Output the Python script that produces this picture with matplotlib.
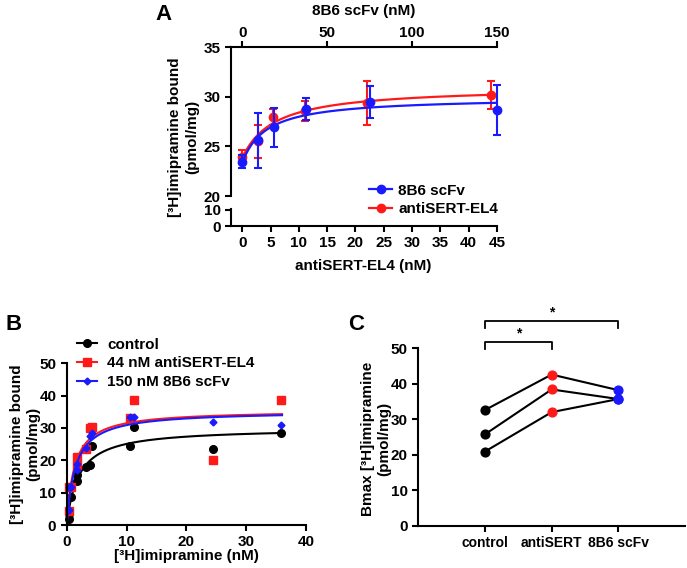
import numpy as np
import matplotlib
matplotlib.use("Agg")
import matplotlib.pyplot as plt
from matplotlib.lines import Line2D

plt.rcParams['font.family'] = ['Liberation Sans', 'DejaVu Sans']
plt.rcParams['font.weight'] = 'bold'
plt.rcParams['axes.labelweight'] = 'bold'
plt.rcParams['font.size'] = 11
plt.rcParams['axes.linewidth'] = 1.5
plt.rcParams['xtick.major.width'] = 1.5
plt.rcParams['ytick.major.width'] = 1.5
plt.rcParams['xtick.major.size'] = 4
plt.rcParams['ytick.major.size'] = 4

# ---- panel A data ----
a_red_x = [0, 2.75, 5.5, 11, 22, 44]            # antiSERT-EL4 (nM)
a_red_y = [23.95, 25.5, 28.0, 28.6, 29.4, 30.17]
a_red_err = [0.7, 1.65, 0.8, 1.0, 2.2, 1.45]
a_blue_x = [0, 9.375, 18.75, 37.5, 75, 150]      # 8B6 scFv (nM)
a_blue_y = [23.45, 25.6, 26.9, 28.75, 29.5, 28.65]
a_blue_err = [0.65, 2.8, 1.95, 1.1, 1.6, 2.5]

# ---- panel B data ----
b_x = [0.4, 0.4, 0.8, 1.8, 1.8, 3.2, 3.9, 4.2, 10.5, 11.3, 24.5, 35.8]
b_ctrl = [1.9, 3.3, 8.6, 13.7, 15.5, 18.0, 18.4, 24.5, 24.5, 30.2, 23.4, 28.4]
b_anti = [4.3, 11.6, 11.6, 18.6, 21.1, 23.5, 29.9, 30.3, 33.0, 38.5, 20.1, 38.7]
b_8b6 = [4.6, 11.8, 11.8, 17.0, 19.0, 23.7, 27.6, 28.3, 33.5, 33.3, 32.0, 30.9]

# ---- panel C data ----
c_groups = ['control', 'antiSERT', '8B6 scFv']
c_ctrl = [32.6, 25.75, 20.9]
c_anti = [42.6, 38.4, 32.0]
c_8b6 = [38.2, 35.7, 35.7]


def fit_hyper(x, y, offset):
    # y = y0 + A*x/(K+x), least squares with grid over K
    x = np.asarray(x, float); y = np.asarray(y, float)
    best = None
    for K in np.linspace(0.05, 40, 2000):
        f = x / (K + x)
        M = np.column_stack([np.ones_like(f), f]) if offset else f[:, None]
        coef = np.linalg.lstsq(M, y, rcond=None)[0]
        sse = np.sum((M @ coef - y) ** 2)
        if best is None or sse < best[0]:
            best = (sse, K, coef)
    K, coef = best[1], best[2]
    def curve(xx):
        f = xx / (K + xx)
        return coef[0] + coef[1] * f if offset else coef[0] * f
    return curve


fig = plt.figure(figsize=(6.87, 5.68), dpi=100)

# ================= Panel A =================
axA = fig.add_axes([0.3362, 0.6549, 0.3872, 0.2623])
axA0 = fig.add_axes([0.3362, 0.6021, 0.3872, 0.0299])
for a in (axA, axA0):
    a.set_xlim(-2, 45)
axA.set_ylim(20, 35)
axA.set_yticks([20, 25, 30, 35])
axA.set_xticks([])
for s in ('bottom', 'right', 'top'):
    axA.spines[s].set_visible(False)
axA0.set_ylim(0, 10.5)
axA0.set_yticks([0, 10])
axA0.set_xticks(range(0, 50, 5))
axA0.spines['top'].set_visible(False)
axA0.spines['right'].set_visible(False)

red_fit = fit_hyper(a_red_x, a_red_y, True)
xx = np.linspace(0, 44, 200)
axA.plot(xx, red_fit(xx), color='#ff1a1a', lw=1.6)
axA.errorbar(a_red_x, a_red_y, yerr=a_red_err, fmt='o', color='#ff1a1a',
             ms=6, capsize=3, elinewidth=1.5, capthick=1.5, clip_on=False)

axT = axA.twiny()
axT.set_xlim(-2 * 10 / 3, 45 * 10 / 3)
axT.set_xticks([0, 50, 100, 150])
for s in ('bottom', 'right', 'left'):
    axT.spines[s].set_visible(False)
axT.tick_params(axis='x', pad=1)
blue_fit = fit_hyper(a_blue_x, a_blue_y, True)
xb = np.linspace(0, 150, 200)
axT.plot(xb, blue_fit(xb), color='#1a1aff', lw=1.6)
eb = axT.errorbar(a_blue_x, a_blue_y, yerr=a_blue_err, fmt='o', color='#1a1aff',
                  ms=6, capsize=3, elinewidth=1.5, capthick=1.5)
for art in eb.lines[0:1] + tuple(eb.lines[1]) + tuple(eb.lines[2]):
    art.set_clip_on(False)
axT.set_xlabel('8B6 scFv (nM)', labelpad=8)

fig.text(363 / 687, 1 - 266 / 568, 'antiSERT-EL4 (nM)', ha='center', va='center')
fig.text(184 / 687, 1 - 137 / 568, '[³H]imipramine bound\n(pmol/mg)', rotation=90,
         ha='center', va='center', linespacing=1.3)
leg_handles = [Line2D([], [], color='#1a1aff', marker='o', ms=6, lw=1.6),
               Line2D([], [], color='#ff1a1a', marker='o', ms=6, lw=1.6)]
fig.legend(leg_handles, ['8B6 scFv', 'antiSERT-EL4'], loc='center left',
           bbox_to_anchor=(363 / 687, 1 - 200 / 568), frameon=False, borderaxespad=0,
           handlelength=1.5, handletextpad=0.4, labelspacing=0.3)
fig.text(163 / 687, 1 - 14 / 568, 'A', fontsize=16, ha='center', va='center')

# ================= Panel B =================
axB = fig.add_axes([0.0971, 0.0757, 0.3483, 0.2847])
axB.set_xlim(0, 40)
axB.set_ylim(0, 50)
axB.set_xticks([0, 10, 20, 30, 40])
axB.set_yticks([0, 10, 20, 30, 40, 50])
axB.spines['top'].set_visible(False)
axB.spines['right'].set_visible(False)
xc = np.linspace(0, 36, 300)
series = [(b_ctrl, 'black', 'o', 5.5, 'control'),
          (b_anti, '#ff1a1a', 's', 6, '44 nM antiSERT-EL4'),
          (b_8b6, '#1a1aff', 'D', 3.5, '150 nM 8B6 scFv')]
handles = []
for ys, col, mk, ms, lab in series:
    f = fit_hyper(b_x, ys, False)
    axB.plot(xc, f(xc), color=col, lw=1.5)
    axB.plot(b_x, ys, mk, color=col, ms=ms, ls='none', clip_on=False)
    handles.append(Line2D([], [], color=col, marker=mk, ms=ms, lw=1.5))
axB.legend(handles, [s[4] for s in series], loc='center left',
           bbox_to_anchor=(0.0, 1.0), frameon=False, borderaxespad=0.3,
           handlelength=1.3, handletextpad=0.65, labelspacing=0.3)
axB.set_xlabel('[³H]imipramine (nM)')
axB.xaxis.set_label_coords(0.5, -0.15)
axB.set_ylabel('[³H]imipramine bound\n(pmol/mg)', linespacing=1.25)
axB.yaxis.set_label_coords(-0.11, 0.5)
fig.text(14 / 687, 1 - 325 / 568, 'B', fontsize=16, ha='center', va='center')

# ================= Panel C =================
axC = fig.add_axes([0.6089, 0.0745, 0.3882, 0.3123])
axC.set_xlim(0, 4)
axC.set_ylim(0, 50)
axC.set_yticks([0, 10, 20, 30, 40, 50])
axC.set_xticks([1, 2, 3])
axC.set_xticklabels(c_groups, fontsize=10)
axC.spines['top'].set_visible(False)
axC.spines['right'].set_visible(False)
for i in range(3):
    axC.plot([1, 2, 3], [c_ctrl[i], c_anti[i], c_8b6[i]], color='black', lw=1.5, zorder=1)
axC.scatter([1] * 3, c_ctrl, color='black', s=40, zorder=2)
axC.scatter([2] * 3, c_anti, color='#ff1a1a', s=40, zorder=2)
axC.scatter([3] * 3, c_8b6, color='#1a1aff', s=40, zorder=2)
axC.plot([1, 1, 2, 2], [49.8, 51.9, 51.9, 49.8], color='black', lw=1.3, clip_on=False)
axC.plot([1, 1, 3, 3], [55.6, 57.8, 57.8, 55.6], color='black', lw=1.3, clip_on=False)
axC.text(1.5, 52.3, '*', ha='center', va='bottom', fontsize=10)
axC.text(2.0, 58.2, '*', ha='center', va='bottom', fontsize=10)
axC.set_ylabel('Bmax [³H]imipramine\n(pmol/mg)', linespacing=1.2)
axC.yaxis.set_label_coords(-0.1, 0.49)
fig.text(356 / 687, 1 - 325 / 568, 'C', fontsize=16, ha='center', va='center')

fig.savefig('out.png', dpi=100)
